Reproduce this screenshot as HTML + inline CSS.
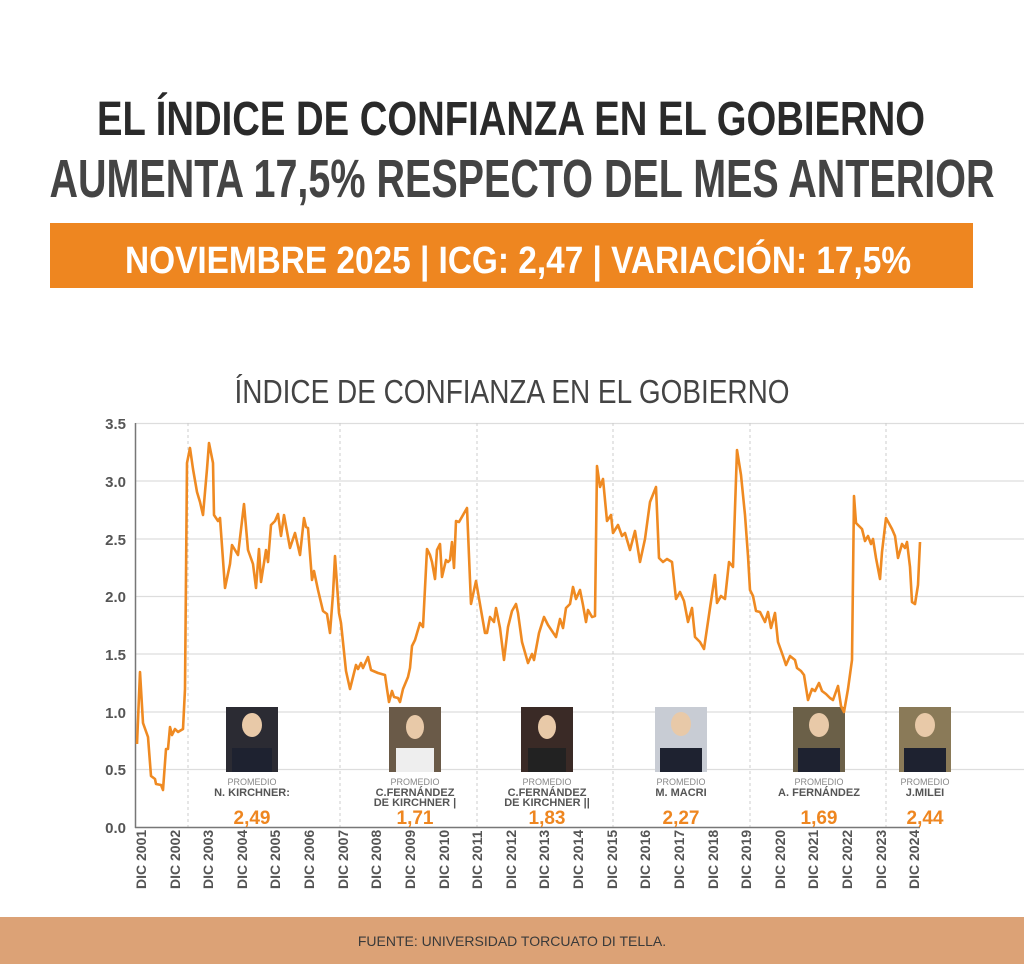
<!DOCTYPE html>
<html><head><meta charset="utf-8"><style>
html,body{margin:0;padding:0;background:#fff;}
svg{display:block;font-family:"Liberation Sans",sans-serif;}
</style></head><body>
<svg width="1024" height="964" viewBox="0 0 1024 964" xmlns="http://www.w3.org/2000/svg">
<rect width="1024" height="964" fill="#fff"/>
<text x="511" y="135" text-anchor="middle" font-size="48" font-weight="bold" fill="#2a2a2a" textLength="828" lengthAdjust="spacingAndGlyphs">EL ÍNDICE DE CONFIANZA EN EL GOBIERNO</text>
<text x="522" y="197" text-anchor="middle" font-size="54" font-weight="bold" fill="#444" textLength="945" lengthAdjust="spacingAndGlyphs">AUMENTA 17,5% RESPECTO DEL MES ANTERIOR</text>
<rect x="50" y="223" width="923" height="65" fill="#ee8620"/>
<text x="518" y="273" text-anchor="middle" font-size="38" font-weight="bold" fill="#fff" textLength="786" lengthAdjust="spacingAndGlyphs">NOVIEMBRE 2025 | ICG: 2,47 | VARIACIÓN: 17,5%</text>
<text x="512" y="403" text-anchor="middle" font-size="33" fill="#444" textLength="555" lengthAdjust="spacingAndGlyphs">ÍNDICE DE CONFIANZA EN EL GOBIERNO</text>
<g stroke="#ddd" stroke-width="1.2">
<line x1="135" y1="423.5" x2="1024" y2="423.5"/><line x1="135" y1="481" x2="1024" y2="481"/><line x1="135" y1="539" x2="1024" y2="539"/><line x1="135" y1="596.5" x2="1024" y2="596.5"/><line x1="135" y1="654" x2="1024" y2="654"/><line x1="135" y1="712" x2="1024" y2="712"/><line x1="135" y1="769.5" x2="1024" y2="769.5"/>
</g>
<g stroke="#ccc" stroke-width="1" stroke-dasharray="3,3">
<line x1="188" y1="423" x2="188" y2="827"/><line x1="340" y1="423" x2="340" y2="827"/><line x1="477" y1="423" x2="477" y2="827"/><line x1="613" y1="423" x2="613" y2="827"/><line x1="750" y1="423" x2="750" y2="827"/><line x1="886" y1="423" x2="886" y2="827"/>
</g>
<line x1="135.5" y1="423" x2="135.5" y2="828" stroke="#777" stroke-width="1.5"/>
<line x1="135" y1="827.5" x2="920" y2="827.5" stroke="#777" stroke-width="1.5"/>
<g font-size="15" font-weight="bold" fill="#555" text-anchor="end">
<text x="126" y="429">3.5</text><text x="126" y="487">3.0</text><text x="126" y="545">2.5</text><text x="126" y="602">2.0</text><text x="126" y="660">1.5</text><text x="126" y="718">1.0</text><text x="126" y="775">0.5</text><text x="126" y="833">0.0</text>
</g>
<g id="px"></g>
<g fill="#2b2b33">
<rect x="226" y="707" width="52" height="65"/><rect x="389" y="707" width="52" height="65" fill="#6a5a48"/><rect x="521" y="707" width="52" height="65" fill="#3a2a26"/><rect x="655" y="707" width="52" height="65" fill="#c8ccd4"/><rect x="793" y="707" width="52" height="65" fill="#6b6048"/><rect x="899" y="707" width="52" height="65" fill="#8a7a58"/>
</g>
<g fill="#e8c9a8">
<ellipse cx="252" cy="725" rx="10" ry="12"/><ellipse cx="415" cy="727" rx="9" ry="12"/><ellipse cx="547" cy="727" rx="9" ry="12"/><ellipse cx="681" cy="724" rx="10" ry="12"/><ellipse cx="819" cy="725" rx="10" ry="12"/><ellipse cx="925" cy="725" rx="10" ry="12"/>
</g>
<g fill="#1e2230">
<rect x="232" y="748" width="40" height="24"/><rect x="396" y="748" width="38" height="24" fill="#eee"/><rect x="528" y="748" width="38" height="24" fill="#222"/><rect x="660" y="748" width="42" height="24"/><rect x="798" y="748" width="42" height="24"/><rect x="904" y="748" width="42" height="24"/>
</g>
<g text-anchor="middle">
<g font-size="9" fill="#888"><text x="252" y="785">PROMEDIO</text><text x="415" y="785">PROMEDIO</text><text x="547" y="785">PROMEDIO</text><text x="681" y="785">PROMEDIO</text><text x="819" y="785">PROMEDIO</text><text x="925" y="785">PROMEDIO</text></g>
<g font-size="11" font-weight="bold" fill="#555"><text x="252" y="796">N. KIRCHNER:</text><text x="415" y="796">C.FERNÁNDEZ</text><text x="415" y="806">DE KIRCHNER |</text><text x="547" y="796">C.FERNÁNDEZ</text><text x="547" y="806">DE KIRCHNER ||</text><text x="681" y="796">M. MACRI</text><text x="819" y="796">A. FERNÁNDEZ</text><text x="925" y="796">J.MILEI</text></g>
<g font-size="19" font-weight="bold" fill="#ee8620"><text x="252" y="824">2,49</text><text x="415" y="824">1,71</text><text x="547" y="824">1,83</text><text x="681" y="824">2,27</text><text x="819" y="824">1,69</text><text x="925" y="824">2,44</text></g>
</g>
<polyline fill="none" stroke="#ef8a22" stroke-width="2.6" stroke-linejoin="round" points="137,744 140,672 143,723 148,737 151,776 155,779 156,784 161,785 163,790 166,749 168,749 170,727 172,735 175,729 178,732 183,729 185,689 187,463 190,448 193,469 197,492 200,502 203,515 207,469 209,443 213,463 214,515 218,521 220,518 225,588 230,564 232,545 238,555 244,504 248,550 253,564 256,588 259,549 261,582 266,550 268,562 271,525 275,521 278,514 281,536 284,515 290,548 295,533 300,555 304,518 306,527 308,528 312,580 314,571 318,590 323,611 327,614 330,633 333,594 335,556 339,613 341,623 346,671 350,689 353,677 356,665 358,669 361,663 363,668 368,657 371,670 378,673 385,675 387,689 389,702 392,691 394,697 398,698 400,702 403,689 408,677 410,668 412,646 415,640 420,623 423,627 427,549 430,555 432,562 435,579 437,550 440,544 442,577 446,560 448,562 450,560 452,542 454,568 456,521 459,522 467,508 471,604 476,581 481,610 485,633 487,633 490,617 494,622 496,608 500,628 504,660 508,627 512,611 516,604 518,613 522,642 528,663 532,654 534,660 539,633 544,617 548,625 556,637 560,619 563,628 566,608 570,604 573,587 576,599 580,590 583,605 586,622 588,610 592,617 595,616 597,466 600,487 603,479 607,521 611,515 613,533 618,525 622,536 625,533 630,550 635,531 640,562 645,539 650,502 656,487 659,558 663,562 667,559 672,562 676,599 680,592 684,601 688,622 692,608 695,637 700,642 704,649 710,608 715,575 717,603 721,596 725,599 729,562 733,567 737,450 741,475 745,515 748,556 750,590 753,596 756,611 760,612 765,622 768,612 771,628 775,613 778,642 783,656 786,665 790,656 795,660 797,668 801,671 804,675 808,700 812,689 815,691 819,683 822,691 826,694 830,698 833,700 838,686 841,706 844,712 848,689 852,660 854,496 856,523 862,529 865,541 868,536 871,544 873,539 876,558 880,579 882,552 886,518 892,529 895,536 898,558 902,544 905,548 907,542 910,567 912,602 915,604 918,585 920,542"/>
<g font-size="14" font-weight="bold" fill="#555">
<text transform="translate(146,889) rotate(-90)">DIC 2001</text>
<text transform="translate(180,889) rotate(-90)">DIC 2002</text>
<text transform="translate(213,889) rotate(-90)">DIC 2003</text>
<text transform="translate(247,889) rotate(-90)">DIC 2004</text>
<text transform="translate(280,889) rotate(-90)">DIC 2005</text>
<text transform="translate(314,889) rotate(-90)">DIC 2006</text>
<text transform="translate(348,889) rotate(-90)">DIC 2007</text>
<text transform="translate(381,889) rotate(-90)">DIC 2008</text>
<text transform="translate(415,889) rotate(-90)">DIC 2009</text>
<text transform="translate(449,889) rotate(-90)">DIC 2010</text>
<text transform="translate(482,889) rotate(-90)">DIC 2011</text>
<text transform="translate(516,889) rotate(-90)">DIC 2012</text>
<text transform="translate(549,889) rotate(-90)">DIC 2013</text>
<text transform="translate(583,889) rotate(-90)">DIC 2014</text>
<text transform="translate(617,889) rotate(-90)">DIC 2015</text>
<text transform="translate(650,889) rotate(-90)">DIC 2016</text>
<text transform="translate(684,889) rotate(-90)">DIC 2017</text>
<text transform="translate(718,889) rotate(-90)">DIC 2018</text>
<text transform="translate(751,889) rotate(-90)">DIC 2019</text>
<text transform="translate(785,889) rotate(-90)">DIC 2020</text>
<text transform="translate(818,889) rotate(-90)">DIC 2021</text>
<text transform="translate(852,889) rotate(-90)">DIC 2022</text>
<text transform="translate(886,889) rotate(-90)">DIC 2023</text>
<text transform="translate(919,889) rotate(-90)">DIC 2024</text>
</g>
<rect x="0" y="917" width="1024" height="47" fill="#dca276"/>
<text x="512" y="946" text-anchor="middle" font-size="14" fill="#3a3a3a">FUENTE: UNIVERSIDAD TORCUATO DI TELLA.</text>
</svg>
</body></html>
